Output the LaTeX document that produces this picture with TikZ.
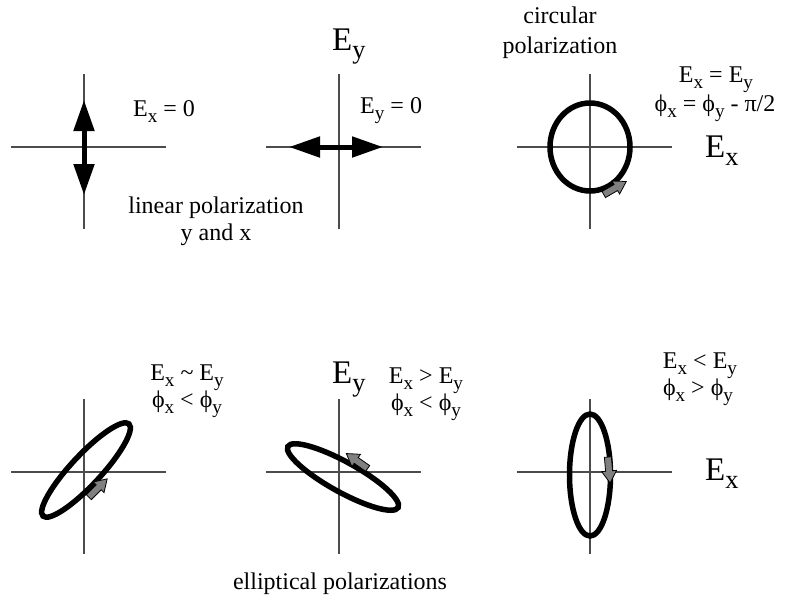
\documentclass[tikz,border=0pt]{standalone}
\usepackage{fontspec}
\setmainfont{Liberation Serif}
\usetikzlibrary{arrows.meta}
\newcommand\dn[1]{\raisebox{-.25em}{\scalebox{.8}{#1}}}
\newcommand\ph{\symbol{"03D5}}

\begin{document}
\begin{tikzpicture}[x=1pt,y=-1pt,
  axis/.style={black!70,line width=1.1pt},
  orbit/.style={line width=5.5pt},
  spin/.style={fill=black!50,draw=black,line width=.8pt},
  linpol/.style={line width=5pt,{Triangle[length=31pt,width=20pt]}-{Triangle[length=31pt,width=20pt]}},
  lbl/.style={font=\fontsize{24}{24}\selectfont,inner sep=0pt},
  big/.style={font=\fontsize{33}{33}\selectfont,inner sep=0pt,anchor=base west}]
\useasboundingbox (0,0) rectangle (786,598);
\foreach \x in {84,339,590}{\foreach \y in {147,472}{
  \draw[axis] (\x-73,\y)--(\x+82,\y) (\x,\y-73)--(\x,\y+82);}}
% linear
\coordinate (vtop) at (84,100); \coordinate (vbot) at (84,195);
\coordinate (hl) at (289,147); \coordinate (hr) at (383,147);
\draw[linpol] (vtop)--(vbot);
\draw[linpol] (hl)--(hr);
% circular and elliptical
\draw[orbit] (590,147) ellipse [x radius=40,y radius=44];
\draw[orbit,rotate around={47:(86,470)}] (86,470) ellipse [x radius=63,y radius=15];
\draw[orbit,rotate around={-29:(343,477)}] (343,477) ellipse [x radius=63,y radius=15];
\draw[orbit] (590,475) ellipse [x radius=20.5,y radius=61];
\foreach \px/\py/\a in {615/188/30,98/488/45,357/461/145,609/470/-85}
  \filldraw[spin,shift={(\px,\py)},rotate=\a] (-13,-3.5)--(1,-3.5)--(1,-7.5)--(13,0)--(1,7.5)--(1,3.5)--(-13,3.5)--cycle;
% axis names
\node[big] (eyt) at (332,50) {E\dn{y}};
\node[big] (eyb) at (332,383) {E\dn{y}};
\node[big] (ext) at (705,157) {E\dn{x}};
\node[big] (exb) at (705,480) {E\dn{x}};
% labels
\node[lbl,anchor=base west] (ex0) at (133,116) {E\dn{x} = 0};
\node[lbl,anchor=base west] (ey0) at (360,113) {E\dn{y} = 0};
\foreach \nm/\x/\y/\txt in {lin1/216/213/{linear polarization}, lin2/216/240/{y and x},
    circ1/560/23/{circular}, circ2/560/53/{polarization},
    ceq/716/82/{E\dn{x} = E\dn{y}}, cph/715/111/{\ph\dn{x} = \ph\dn{y} - \symbol{"03C0}/2},
    eq1/187/380/{E\dn{x} \textasciitilde{} E\dn{y}}, ph1/187/407/{\ph\dn{x} < \ph\dn{y}},
    eq2/426/383/{E\dn{x} > E\dn{y}}, ph2/426/410/{\ph\dn{x} < \ph\dn{y}},
    eq3/700/368/{E\dn{x} < E\dn{y}}, ph3/698/395/{\ph\dn{x} > \ph\dn{y}},
    ell/340/589/{elliptical polarizations}}
  \node[lbl,anchor=base] (\nm) at (\x,\y) {\txt};
\end{tikzpicture}
\end{document}
